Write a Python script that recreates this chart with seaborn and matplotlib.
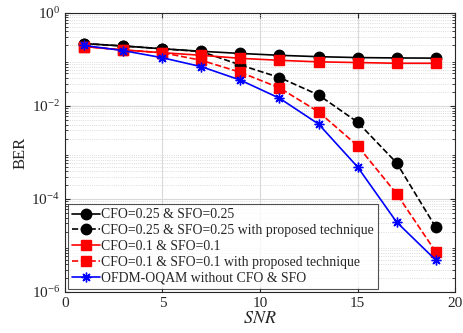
import pandas as pd
import seaborn as sns
import matplotlib.pyplot as plt
from matplotlib.ticker import LogLocator, NullFormatter

# SNR points
snr = [1, 3, 5, 7, 9, 11, 13, 15, 17, 19]

# BER values
ber_cfo25 = [0.22, 0.195, 0.17, 0.15, 0.135, 0.123, 0.115, 0.11, 0.108, 0.107]
ber_cfo25_prop = [0.22, 0.195, 0.17, 0.148, 0.076, 0.041, 0.0173, 0.0045, 6.0e-4, 2.5e-5]
ber_cfo1 = [0.19, 0.16, 0.14, 0.123, 0.106, 0.096, 0.089, 0.086, 0.083, 0.083]
ber_cfo1_prop = [0.19, 0.16, 0.14, 0.096, 0.053, 0.0245, 0.0075, 1.4e-3, 1.3e-4, 7.4e-6]
ber_ideal = [0.2, 0.155, 0.109, 0.07, 0.036, 0.0147, 0.0041, 4.9e-4, 3.2e-5, 4.9e-6]

labels = ["CFO=0.25 & SFO=0.25",
          "CFO=0.25 & SFO=0.25 with proposed technique",
          "CFO=0.1 & SFO=0.1",
          "CFO=0.1 & SFO=0.1 with proposed technique",
          "OFDM-OQAM without CFO & SFO"]
series = [ber_cfo25, ber_cfo25_prop, ber_cfo1, ber_cfo1_prop, ber_ideal]

sns.set_style("ticks")
plt.rcParams['font.family'] = ['Liberation Serif', 'DejaVu Serif']
plt.rcParams['mathtext.fontset'] = 'stix'

fig = plt.figure(figsize=(4.63, 3.33), dpi=100)
ax = fig.add_axes([0.140, 0.123, 0.843, 0.838])

styles = [dict(color='black', marker='o', ls='-', ms=7.5),
          dict(color='black', marker='o', ls='--', ms=7.5),
          dict(color='red', marker='s', ls='-', ms=6.5),
          dict(color='red', marker='s', ls='--', ms=6.5),
          dict(color='blue', marker=(8, 2, 0), ls='-', ms=7)]

for lab, vals, st in zip(labels, series, styles):
    df = pd.DataFrame({'snr': snr, 'ber': vals})
    sns.lineplot(data=df, x='snr', y='ber', ax=ax, label=lab,
                 color=st['color'], marker=st['marker'], linestyle=st['ls'],
                 markersize=st['ms'], markeredgecolor=st['color'],
                 markeredgewidth=1.0, linewidth=1.2)

ax.set_yscale('log')
ax.set_xlim(0, 20)
ax.set_ylim(1e-6, 1)
ax.set_xticks([0, 5, 10, 15, 20])
ax.set_yticks([1e-6, 1e-4, 1e-2, 1e0])
ax.yaxis.set_minor_locator(LogLocator(base=10, subs=range(2, 10), numticks=20))
ax.yaxis.set_minor_formatter(NullFormatter())

ax.grid(True, which='major', color='#d9d9d9', lw=0.8)
ax.grid(True, which='minor', axis='y', color='#d0d0d0', lw=0.6, ls=':')
ax.tick_params(which='both', direction='in', top=True, right=True, labelsize=11,
               colors='#262626')
ax.tick_params(which='minor', length=2)
for sp in ax.spines.values():
    sp.set_color('#262626')
    sp.set_linewidth(0.8)

ax.set_xlabel('$SNR$', fontsize=13, labelpad=0)
ax.set_ylabel('BER', fontsize=12, labelpad=2)

leg = ax.legend(loc='lower left', fontsize=9.9, frameon=True, fancybox=False,
                borderaxespad=0.25, handlelength=2.0, handletextpad=0.1,
                borderpad=0.3, labelspacing=0.2)
leg.get_frame().set_edgecolor('#262626')
leg.get_frame().set_linewidth(0.8)

fig.savefig('out.png', dpi=100)
